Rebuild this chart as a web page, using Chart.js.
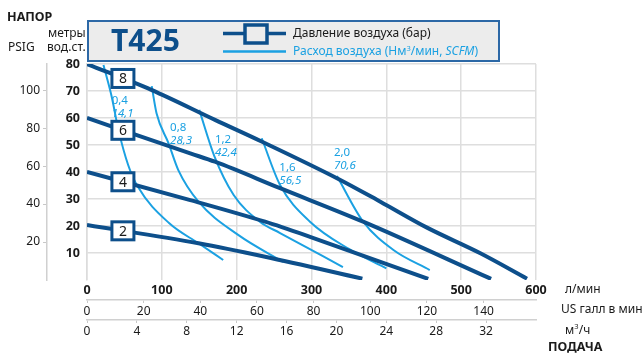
<!DOCTYPE html>
<html><head><meta charset="utf-8">
<script src="https://cdn.jsdelivr.net/npm/chart.js@4.4.1/dist/chart.umd.min.js"></script>
<style>html,body{margin:0;padding:0;background:#fff}#wrap{width:643px;height:354px}</style>
</head><body><div id="wrap"><canvas id="c" width="643" height="354"></canvas></div>
<script>
// ---- data (flow in l/min, head in metres of water) ----
const pressureNames = ['2', '4', '6', '8'];
const p2Flow = [0, 149, 238, 368];
const p2Head = [20.4, 13.6, 8.6, 0.5];
const p4Flow = [0, 138, 238, 298, 456];
const p4Head = [40, 29.6, 21.6, 16, 0.4];
const p6Flow = [0, 138, 171, 258, 369, 540];
const p6Head = [60, 46.9, 43.8, 34, 21.6, 0.4];
const p8Flow = [0, 86, 171, 234, 334, 392, 455, 525, 588];
const p8Head = [80, 70.4, 59.3, 51.2, 37.7, 29, 19.3, 10, 0.5];

const airNames = ['0,4', '0,8', '1,2', '1,6', '2,0'];
const airScfm = ['14,1', '28,3', '42,4', '56,5', '70,6'];
const a04Flow = [22, 33, 42, 55, 68, 110, 149, 182];
const a04Head = [79.6, 67.9, 55.6, 42.6, 34.5, 21, 13.6, 7.4];
const a08Flow = [86.5, 93, 109, 122, 149, 202, 262];
const a08Head = [71.8, 61.7, 50.6, 40.7, 29, 16.7, 6.7];
const a12Flow = [150, 170, 196, 231, 258, 342];
const a12Head = [63, 46, 31.5, 21.6, 17.4, 4.8];
const a16Flow = [233.5, 258, 298, 350, 400];
const a16Head = [52.5, 35.2, 21.6, 11.5, 4.3];
const a20Flow = [334, 369, 410, 458];
const a20Head = [38.5, 21.6, 11, 3.7];

const flowTicks = [0, 100, 200, 300, 400, 500, 600];
const galTicks = [0, 20, 40, 60, 80, 100, 120, 140];
const m3hTicks = [0, 4, 8, 12, 16, 20, 24, 28, 32];
const headTicks = [10, 20, 30, 40, 50, 60, 70, 80];
const psiTicks = [20, 40, 60, 80, 100];

const L_PER_GAL = 3.78541, L_PER_M3H = 1000 / 60, M_PER_PSI = 0.70307;

// ---- styles ----
const DARK = '#0d4f8b', LIGHT = '#1ba1e2', GRID = '#dedede', TXT = '#1a1a1a';
const FONT = '"Noto Sans", "Open Sans", sans-serif';

const pts = (xs, ys) => xs.map((x, i) => ({x, y: ys[i]}));
const pFlows = [p2Flow, p4Flow, p6Flow, p8Flow], pHeads = [p2Head, p4Head, p6Head, p8Head];
const aFlows = [a04Flow, a08Flow, a12Flow, a16Flow, a20Flow], aHeads = [a04Head, a08Head, a12Head, a16Head, a20Head];

const datasets = [];
aFlows.forEach((f, i) => datasets.push({label: 'air ' + airNames[i], data: pts(f, aHeads[i]),
  borderColor: LIGHT, borderWidth: 2, pointRadius: 0, cubicInterpolationMode: 'monotone', order: 2}));
pFlows.forEach((f, i) => datasets.push({label: 'p ' + pressureNames[i], data: pts(f, pHeads[i]),
  borderColor: DARK, borderWidth: 4, pointRadius: 0, cubicInterpolationMode: 'monotone', order: 1}));

function interp(xs, ys, x) {
  for (let i = 1; i < xs.length; i++) if (x <= xs[i]) return ys[i-1] + (ys[i]-ys[i-1]) * (x - xs[i-1]) / (xs[i] - xs[i-1]);
  return ys[ys.length-1];
}
const boxFlow = 48; // where the pressure boxes sit on each line
const airLabelPos = [[33, 66.5], [111, 56.5], [171, 52], [257, 41.5], [330, 47]];

const keepTicks = list => s => { s.ticks = list.map(v => ({value: v})); };

const overlay = {
  id: 'overlay',
  afterDraw(chart) {
    const c = chart.ctx, xs = chart.scales.x, ys = chart.scales.y;
    c.save();
    // header box
    c.fillStyle = '#ececec'; c.fillRect(88, 21, 411, 40);
    c.strokeStyle = '#2c68a6'; c.lineWidth = 2; c.strokeRect(88, 21, 411, 40);
    c.fillStyle = '#0d4f8b'; c.font = 'bold 30px ' + FONT; c.textBaseline = 'middle'; c.textAlign = 'left';
    c.fillText('T425', 111, 42);
    // legend symbols
    c.strokeStyle = DARK; c.lineWidth = 3.5;
    c.beginPath(); c.moveTo(223, 33.5); c.lineTo(286, 33.5); c.stroke();
    c.fillStyle = '#ececec'; c.fillRect(245, 25, 22, 18);
    c.lineWidth = 3.5; c.strokeRect(245, 25, 22, 18);
    c.strokeStyle = LIGHT; c.lineWidth = 2.5;
    c.beginPath(); c.moveTo(223, 51.5); c.lineTo(286, 51.5); c.stroke();
    c.font = '12px ' + FONT; c.fillStyle = TXT;
    c.fillText('Давление воздуха (бар)', 293, 34);
    c.fillStyle = LIGHT;
    let t = 'Расход воздуха (Нм', x0 = 293;
    c.fillText(t, x0, 52); x0 += c.measureText(t).width;
    c.font = '7.5px ' + FONT; c.fillText('3', x0, 48.5); x0 += c.measureText('3').width;
    c.font = '12px ' + FONT; t = '/мин, '; c.fillText(t, x0, 52); x0 += c.measureText(t).width;
    c.font = 'italic 12px ' + FONT; c.fillText('SCFM', x0, 52); x0 += c.measureText('SCFM').width;
    c.font = '12px ' + FONT; c.fillText(')', x0, 52);
    // axis titles
    c.fillStyle = TXT; c.font = 'bold 12.5px ' + FONT; c.fillText('НАПОР', 7, 17);
    c.font = '12px ' + FONT;
    c.fillText('PSIG', 8, 48); c.fillText('метры', 48, 34); c.fillText('вод.ст.', 47, 48);
    c.fillText('л/мин', 565, 290); c.fillText('US галл в мин', 561, 310);
    c.fillText('м', 565, 331); let mw = c.measureText('м').width;
    c.font = '7.5px ' + FONT; c.fillText('3', 565 + mw, 327);
    c.font = '12px ' + FONT; c.fillText('/ч', 565 + mw + 4.5, 331);
    c.font = 'bold 12.5px ' + FONT; c.fillText('ПОДАЧА', 548, 347);
    // air labels
    airLabelPos.forEach((p, i) => {
      const px = xs.getPixelForValue(p[0]), py = ys.getPixelForValue(p[1]);
      c.fillStyle = LIGHT; c.font = '11.5px ' + FONT; c.fillText(airNames[i], px, py);
      c.font = 'italic 11.5px ' + FONT; c.fillText(airScfm[i], px, py + 13);
    });
    // pressure boxes
    pFlows.forEach((f, i) => {
      const px = xs.getPixelForValue(boxFlow), py = ys.getPixelForValue(interp(f, pHeads[i], boxFlow));
      c.fillStyle = '#fff'; c.fillRect(px - 11, py - 9, 22, 18);
      c.strokeStyle = DARK; c.lineWidth = 3; c.strokeRect(px - 11, py - 9, 22, 18);
      c.fillStyle = TXT; c.font = '14px ' + FONT; c.textAlign = 'center';
      c.fillText(pressureNames[i], px, py + 1); c.textAlign = 'left';
    });
    c.restore();
  }
};

new Chart(document.getElementById('c'), {
  type: 'line',
  data: {datasets},
  plugins: [overlay],
  options: {
    responsive: false, animation: false, parsing: false,
    layout: {padding: {left: 0, right: 107, top: 64, bottom: 14}},
    plugins: {legend: {display: false}, tooltip: {enabled: false}},
    scales: {
      x: {type: 'linear', position: 'bottom', weight: 0, min: 0, max: 600,
        afterBuildTicks: keepTicks(flowTicks),
        ticks: {font: {family: FONT, size: 12.5, weight: 'bold'}, color: TXT, padding: 3, maxRotation: 0},
        grid: {color: GRID, lineWidth: 1.5, drawTicks: false}, border: {display: false},
        afterFit: s => { s.height = 20; }},
      x2: {type: 'linear', position: 'bottom', weight: 1, min: 0, max: 600 / L_PER_GAL,
        afterBuildTicks: keepTicks(galTicks),
        ticks: {font: {family: FONT, size: 12}, color: TXT, padding: 1, maxRotation: 0},
        grid: {drawOnChartArea: false, tickLength: 3, color: '#c8c8c8'}, border: {color: '#d0d0d0', width: 1.5},
        afterFit: s => { s.height = 20; }},
      x3: {type: 'linear', position: 'bottom', weight: 2, min: 0, max: 600 / L_PER_M3H,
        afterBuildTicks: keepTicks(m3hTicks),
        ticks: {font: {family: FONT, size: 12}, color: TXT, padding: 1, maxRotation: 0},
        grid: {drawOnChartArea: false, tickLength: 3, color: '#c8c8c8'}, border: {color: '#d0d0d0', width: 1.5},
        afterFit: s => { s.height = 20; }},
      y: {type: 'linear', position: 'left', weight: 0, min: 0, max: 80,
        afterBuildTicks: keepTicks(headTicks),
        ticks: {font: {family: FONT, size: 12.5, weight: 'bold'}, color: TXT, padding: 7},
        grid: {color: GRID, lineWidth: 1.5, drawTicks: false}, border: {color: '#dcdcdc', width: 1.5},
        afterFit: s => { s.width = 40; }},
      y2: {type: 'linear', position: 'left', weight: 1, min: 0, max: 80 / M_PER_PSI,
        afterBuildTicks: keepTicks(psiTicks),
        ticks: {font: {family: FONT, size: 12}, color: TXT, padding: 3},
        grid: {drawOnChartArea: false, tickLength: 4, color: '#c8c8c8'}, border: {color: '#d0d0d0', width: 1.5},
        afterFit: s => { s.width = 47; }}
    }
  }
});
</script></body></html>
